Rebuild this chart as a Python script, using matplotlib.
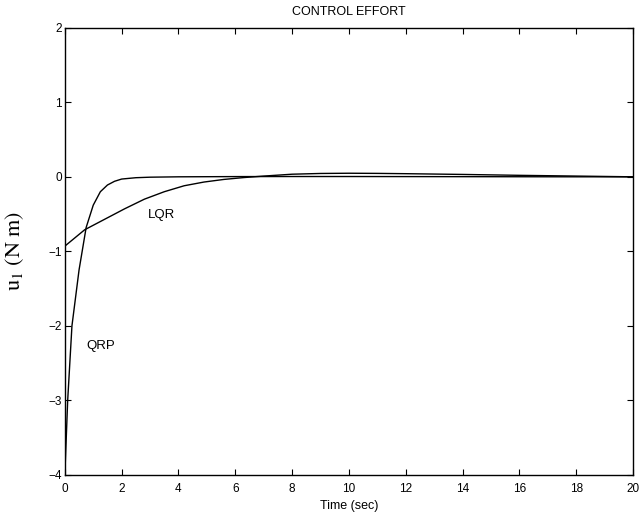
import matplotlib
matplotlib.use("Agg")
import matplotlib.pyplot as plt

# QRP control effort
qrp_t = [0, 0.1, 0.25, 0.5, 0.75, 1.0, 1.25, 1.5, 1.75, 2.0, 2.5, 3, 4, 6, 8, 10, 12, 14, 16, 18, 20]
qrp_u = [-4, -3.0, -2.0, -1.25, -0.68, -0.38, -0.2, -0.11, -0.06, -0.03, -0.012, -0.005, 0, 0.003, 0.004, 0.004, 0.003, 0.002, 0.001, 0.0, 0.0]

# LQR control effort
lqr_t = [0, 0.7, 1.4, 2.1, 2.8, 3.5, 4.2, 4.9, 5.6, 6.3, 7.0, 8.0, 9.0, 10.0, 11.0, 12.0, 14.0, 16.0, 18.0, 20.0]
lqr_u = [-0.93, -0.71, -0.57, -0.43, -0.3, -0.2, -0.12, -0.07, -0.035, -0.01, 0.01, 0.035, 0.045, 0.048, 0.046, 0.042, 0.032, 0.02, 0.01, 0.0]

xticks = [0, 2, 4, 6, 8, 10, 12, 14, 16, 18, 20]
yticks = [-4, -3, -2, -1, 0, 1, 2]

plt.rcParams['font.family'] = ['Liberation Sans', 'DejaVu Sans']
plt.rcParams['mathtext.fontset'] = 'stix'

fig = plt.figure(figsize=(6.42, 5.14), dpi=100)
ax = fig.add_axes([0.101, 0.076, 0.885, 0.870])

ax.plot(qrp_t, qrp_u, color='black', lw=1.0)
ax.plot(lqr_t, lqr_u, color='black', lw=1.0)

ax.text(3.42, -0.51, 'LQR', fontsize=9.5, ha='center', va='center')
ax.text(1.27, -2.27, 'QRP', fontsize=9.5, ha='center', va='center')

ax.set_xlim(0, 20)
ax.set_ylim(-4, 2)
ax.set_xticks(xticks)
ax.set_yticks(yticks)
ax.tick_params(direction='in', top=True, right=True, labelsize=8.5, length=4, width=0.8)
ax.tick_params(axis='x', pad=6)
ax.tick_params(axis='y', pad=2)
for s in ax.spines.values():
    s.set_linewidth(1.0)

ax.set_title('CONTROL EFFORT', fontsize=9, pad=9)
ax.set_xlabel('Time (sec)', fontsize=9, va='center')
ax.xaxis.set_label_coords(0.5, -0.069)
ax.set_ylabel(r'$\mathrm{u}_1\ \mathrm{(N\ m)}$', fontsize=16, va='center')
ax.yaxis.set_label_coords(-0.088, 0.5)

fig.savefig('out.png', dpi=100)
